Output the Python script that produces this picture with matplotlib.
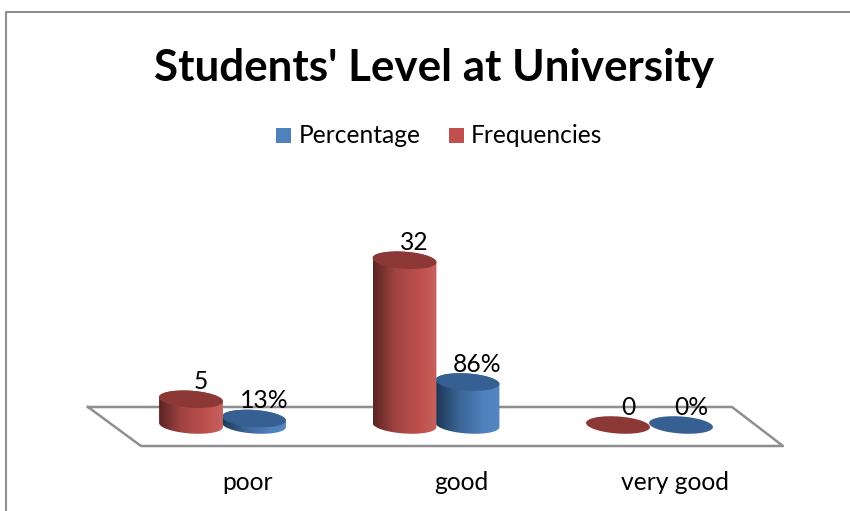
#!/usr/bin/python
# Students' level chart, fake 3D cylinders drawn on a flat axes

import numpy as np
import matplotlib
matplotlib.use('Agg')
import matplotlib.pyplot as plt
from matplotlib.patches import Polygon, Rectangle
from matplotlib.colors import LinearSegmentedColormap

categories = ['poor', 'good', 'very good']
frequencies = [5, 32, 0]
percentage = [13, 86, 0]
freq_labels = ['5', '32', '0']
pct_labels = ['13%', '86%', '0%']

W, H = 850, 511
BASE_PX = 425        # y pixel of the value zero
FIRST_PX = 223       # x pixel of the first category
STEP_PX = 213.5      # pixels between categories
PX_PER_FREQ = 5.15
PX_PER_PCT = 0.5
HALF_W = 32          # cylinder radius in px
HALF_H = 8.5

plt.rcParams['font.family'] = 'Lato'

fig = plt.figure(figsize=(W / 100, H / 100), dpi=100)
ax = fig.add_axes([0, 0, 1, 1])
ax.set_xlim(-FIRST_PX / STEP_PX, (W - FIRST_PX) / STEP_PX)
ax.set_ylim(-(H - BASE_PX) / PX_PER_FREQ, BASE_PX / PX_PER_FREQ)
ax.axis('off')

# helper for the decoration that lives in figure pixels
def px(x, y):
    return (x / W, 1 - y / H)

red_map = LinearSegmentedColormap.from_list('r', [(0, '#5b2422'), (0.35, '#a04442'), (0.75, '#c0504d'), (1, '#c4625f')])
blue_map = LinearSegmentedColormap.from_list('b', [(0, '#1d3755'), (0.35, '#3a6494'), (0.75, '#4f81bd'), (1, '#5587c2')])
red_top = '#8c3836'
blue_top = '#376092'

# chart frame
ax.plot(*zip(px(6, H), px(6, 12), px(W, 12)), transform=ax.transAxes, color='#8f8f8f', lw=1.5)

# floor of the 3D chart
floor = [px(88, 407), px(732, 407), px(783, 446), px(141, 446), px(88, 407)]
ax.plot(*zip(*floor), transform=ax.transAxes, color='#8f8f8f', lw=1.8)


def ellipse_pts(cx, cy, t):
    # tilted ellipse, in pixels relative to the data position
    tilt = np.radians(4)
    ex = HALF_W * np.cos(t)
    ey = HALF_H * np.sin(t)
    return cx + ex * np.cos(tilt) - ey * np.sin(tilt), cy + ex * np.sin(tilt) + ey * np.cos(tilt)


def cylinder(xpos, rise_px, cmap, top_color):
    sx = 1.0 / STEP_PX
    sy = 1.0 / PX_PER_FREQ
    top = rise_px * sy
    # pixels measured with y downward from the data position
    t_low = np.linspace(0, np.pi, 60)
    t_up = np.linspace(np.pi, 2 * np.pi, 60)
    bx, by = ellipse_pts(0, 0, t_low)
    ux, uy = ellipse_pts(0, 0, t_up)
    body_x = np.concatenate([bx, ux]) * sx + xpos
    body_y = np.concatenate([-by * sy, top - uy * sy])
    if rise_px > 0:
        body = Polygon(np.column_stack([body_x, body_y]), closed=True, fc='none', ec='none', zorder=3)
        ax.add_patch(body)
        grad = np.linspace(0, 1, 256).reshape(1, -1)
        im = ax.imshow(grad, cmap=cmap, aspect='auto', zorder=3,
                       extent=[xpos - HALF_W * sx, xpos + HALF_W * sx, -HALF_H * 1.3 * sy, top + HALF_H * 1.3 * sy])
        im.set_clip_path(body)
    tx, ty = ellipse_pts(0, 0, np.linspace(0, 2 * np.pi, 120))
    ax.add_patch(Polygon(np.column_stack([tx * sx + xpos, top - ty * sy]), closed=True,
                         fc=top_color, ec='none', zorder=3))


red_off = -32 / STEP_PX
blue_off = 31 / STEP_PX
label_dx = 10 / STEP_PX
label_dy = 18 / PX_PER_FREQ

for i in range(len(categories)):
    f_rise = frequencies[i] * PX_PER_FREQ
    p_rise = percentage[i] * PX_PER_PCT
    cylinder(i + blue_off, p_rise, blue_map, blue_top)
    cylinder(i + red_off, f_rise, red_map, red_top)
    ax.text(i + red_off + label_dx, f_rise / PX_PER_FREQ + label_dy, freq_labels[i],
            ha='center', va='center', fontsize=17.7, color='black', zorder=5)
    ax.text(i + blue_off + label_dx, p_rise / PX_PER_FREQ + label_dy, pct_labels[i],
            ha='center', va='center', fontsize=17.7, color='black', zorder=5)
    lx, ly = px(FIRST_PX + STEP_PX * i + 25, 482)
    ax.text(lx, ly, categories[i], transform=ax.transAxes, ha='center', va='center',
            fontsize=17.7, color='black')

# title
tx, ty = px(434, 68)
ax.text(tx, ty, "Students' Level at University", transform=ax.transAxes, ha='center', va='center',
        fontsize=31.7, fontweight='bold', color='black')

# legend
legend_items = [('Percentage', '#4f81bd', 276, 299), ('Frequencies', '#c0504d', 449, 471)]
for name, col, box_x, text_x in legend_items:
    x0, y0 = px(box_x, 143)
    ax.add_patch(Rectangle((x0, y0), 15 / W, 15 / H, transform=ax.transAxes, fc=col, ec='none'))
    x1, y1 = px(text_x, 135)
    ax.text(x1, y1, name, transform=ax.transAxes, ha='left', va='center', fontsize=17.7, color='black')

fig.savefig('out.png', dpi=100)
